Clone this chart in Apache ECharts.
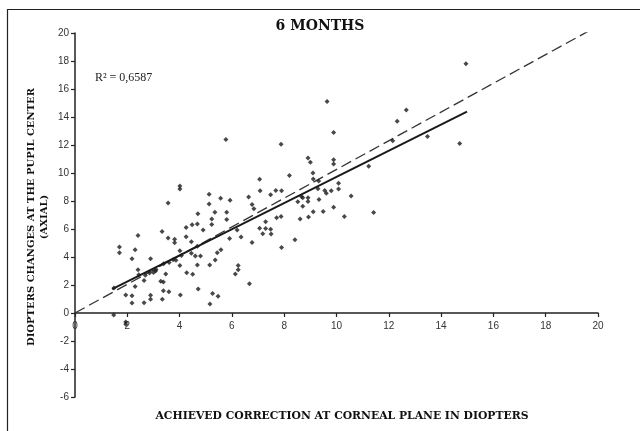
<!DOCTYPE html>
<html><head><meta charset="utf-8">
<script src="https://cdn.jsdelivr.net/npm/echarts@6/dist/echarts.min.js"></script>
<style>html,body{margin:0;padding:0;background:#fff}#c{width:640px;height:431px}</style>
</head><body><div id="c"></div>
<script>
const xTicks = [0,2,4,6,8,10,12,14,16,18,20];
const yTicks = [-6,-4,-2,0,2,4,6,8,10,12,14,16,18,20];
const titleText = '6 MONTHS';
const xName = 'ACHIEVED CORRECTION AT CORNEAL PLANE IN DIOPTERS';
const yName = ['DIOPTERS CHANGES AT THE PUPIL CENTER', '(AXIAL)'];
const r2Label = 'R\u00B2 = 0,6587';
const points = [
[14.95,17.8],[9.64,15.1],[12.67,14.5],[12.32,13.7],[9.89,12.9],[13.48,12.6],[12.15,12.3],[14.71,12.1],
[5.77,12.4],[7.88,12.06],[8.91,11.08],[9.0,10.77],[9.89,10.94],[9.89,10.65],[11.23,10.49],[8.2,9.82],
[9.1,10.0],[9.11,9.58],[7.06,9.56],[9.32,9.42],[10.08,9.27],[4.01,9.08],[4.01,8.85],[9.29,8.87],
[10.08,8.85],[9.55,8.75],[9.8,8.73],[7.08,8.73],[7.68,8.75],[7.9,8.73],[9.61,8.56],[5.13,8.49],
[7.48,8.44],[10.56,8.35],[8.66,8.32],[8.71,8.23],[6.64,8.28],[5.57,8.2],[8.91,8.23],[9.33,8.11],
[5.93,8.06],[8.91,7.97],[8.52,7.94],[3.56,7.85],[5.13,7.78],[6.77,7.75],[8.71,7.63],[9.89,7.56],
[6.84,7.44],[5.35,7.2],[5.8,7.2],[9.11,7.23],[9.49,7.25],[11.42,7.18],[4.7,7.09],[8.93,6.85],
[10.3,6.9],[7.71,6.8],[7.88,6.9],[8.61,6.71],[5.23,6.71],[5.8,6.68],[7.29,6.52],[5.23,6.33],
[4.68,6.35],[4.48,6.3],[4.25,6.11],[7.06,6.06],[7.29,6.04],[7.48,5.99],[4.9,5.92],[6.2,5.92],
[3.33,5.83],[7.18,5.66],[7.5,5.64],[2.41,5.54],[4.25,5.45],[6.35,5.42],[3.56,5.35],[5.91,5.33],
[3.81,5.26],[8.41,5.23],[4.45,5.09],[3.81,5.02],[6.77,5.04],[7.9,4.68],[1.7,4.71],[2.3,4.52],
[4.68,4.76],[5.58,4.52],[4.01,4.45],[1.7,4.3],[4.45,4.26],[5.44,4.3],[4.6,4.07],[4.8,4.07],
[2.18,3.88],[2.89,3.88],[5.36,3.78],[4.07,4.11],[3.86,3.76],[3.39,3.52],[3.6,3.6],[4.01,3.4],
[6.24,3.4],[4.68,3.42],[5.15,3.42],[6.24,3.09],[2.41,3.09],[3.08,3.0],[2.44,2.73],[3.47,2.78],
[4.27,2.88],[4.5,2.76],[6.13,2.78],[2.69,2.69],[2.85,2.85],[2.64,2.33],[3.28,2.26],[3.38,2.21],
[6.67,2.09],[2.3,1.9],[1.49,1.78],[4.71,1.71],[3.38,1.59],[3.59,1.52],[1.94,1.28],[2.18,1.24],
[2.89,1.26],[5.26,1.4],[4.03,1.28],[5.47,1.19],[2.89,0.98],[3.34,0.98],[2.18,0.71],[2.64,0.74],
[5.16,0.64],[1.48,-0.14],[1.94,-0.64],[1.94,-0.8],[3.0,2.9],[3.75,3.8],[3.1,3.1]
];
const fitLine = [[1.42,1.71],[14.99,14.39]];
const refLine = [[0,0],[19.7,20.2]];

const chart = echarts.init(document.getElementById('c'), null, {renderer:'canvas'});
const serif = 'DejaVu Serif';
chart.setOption({
  animation:false,
  backgroundColor:'#fff',
  grid:{left:75,right:42,top:33,bottom:34,containLabel:false},
  xAxis:{type:'value',min:xTicks[0],max:xTicks[xTicks.length-1],interval:2,
    offset:-84,
    axisLine:{onZero:false,lineStyle:{color:'#222',width:1.5}},
    axisTick:{show:true,inside:false,length:4,lineStyle:{color:'#222',width:1.2}},
    axisLabel:{color:'#333',fontFamily:'Liberation Sans',fontSize:10,margin:8},
    splitLine:{show:false}},
  yAxis:{type:'value',min:yTicks[0],max:yTicks[yTicks.length-1],interval:2,
    axisLine:{show:true,onZero:false,lineStyle:{color:'#222',width:1.5}},
    axisTick:{show:true,length:4,lineStyle:{color:'#222',width:1.2}},
    axisLabel:{color:'#333',fontFamily:'Liberation Sans',fontSize:10,margin:6},
    splitLine:{show:false}},
  series:[
    {type:'line',data:refLine,showSymbol:false,symbol:'none',
     lineStyle:{color:'#333',width:1.3,type:[11,5]},z:2},
    {type:'line',data:fitLine,showSymbol:false,symbol:'none',
     lineStyle:{color:'#1a1a1a',width:2},z:3},
    {type:'scatter',data:points,symbol:'diamond',symbolSize:5,
     itemStyle:{color:'#1a1a1a'},z:4}
  ],
  graphic:[
    {type:'rect',left:5,top:7,shape:{width:640,height:430},style:{fill:'none',stroke:'#222',lineWidth:1.2},silent:true},
    {type:'text',left:'center',top:19,style:{text:titleText,font:'bold 14px "'+serif+'"',fill:'#111'}},
    {type:'text',x:95,y:72,style:{text:r2Label,font:'12px "Liberation Serif"',fill:'#222'}},
    {type:'text',x:342,y:416,style:{text:xName,font:'bold 10.8px "'+serif+'"',fill:'#111',align:'center',verticalAlign:'middle'}},
    {type:'text',x:31,y:217,rotation:Math.PI/2,style:{text:yName[0],font:'bold 10px "'+serif+'"',fill:'#111',align:'center',verticalAlign:'middle'}},
    {type:'text',x:44,y:217,rotation:Math.PI/2,style:{text:yName[1],font:'bold 10px "'+serif+'"',fill:'#111',align:'center',verticalAlign:'middle'}}
  ]
});
</script></body></html>
